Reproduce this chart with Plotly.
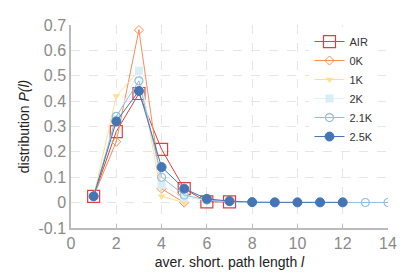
import plotly.graph_objects as go

air_x = [1, 2, 3, 4, 5, 6, 7]
air_y = [0.025, 0.28, 0.43, 0.21, 0.055, 0.003, 0.003]
k0_x = [1, 2, 3, 4, 5]
k0_y = [0.025, 0.24, 0.68, 0.055, 0.0]
k1_x = [1, 2, 3, 4, 5]
k1_y = [0.025, 0.42, 0.52, 0.025, 0.0]
k2_x = [1, 2, 3, 4, 5, 6, 7]
k2_y = [0.025, 0.33, 0.52, 0.07, 0.02, 0.01, 0.004]
k21_x = [1, 2, 3, 4, 5, 6, 7, 8, 9, 10, 11, 12, 13, 14]
k21_y = [0.025, 0.34, 0.48, 0.10, 0.03, 0.01, 0.005, 0.001, 0.001, 0.001, 0.001, 0.001, 0.0005, 0.0005]
k25_x = [1, 2, 3, 4, 5, 6, 7, 8, 9, 10, 11, 12]
k25_y = [0.025, 0.32, 0.44, 0.14, 0.055, 0.015, 0.006, 0.002, 0.001, 0.001, 0.001, 0.001]

fig = go.Figure()
fig.add_trace(go.Scatter(x=air_x, y=air_y, name="AIR", mode="lines+markers",
                         line=dict(color="#e0403a", width=1),
                         marker=dict(symbol="square-open", size=12, color="#e0403a", line=dict(width=1.2))))
fig.add_trace(go.Scatter(x=k0_x, y=k0_y, name="0K", mode="lines+markers",
                         line=dict(color="#fc8d59", width=1),
                         marker=dict(symbol="diamond-open-dot", size=7, color="#fc8d59", line=dict(width=1))))
fig.add_trace(go.Scatter(x=k1_x, y=k1_y, name="1K", mode="lines+markers",
                         line=dict(color="#fee090", width=1),
                         marker=dict(symbol="triangle-down", size=7, color="#fee090")))
fig.add_trace(go.Scatter(x=k2_x, y=k2_y, name="2K", mode="lines+markers",
                         line=dict(color="#e0f3f8", width=1),
                         marker=dict(symbol="square", size=8, color="#d8eef6")))
fig.add_trace(go.Scatter(x=k21_x, y=k21_y, name="2.1K", mode="lines+markers",
                         line=dict(color="#91bfdb", width=1),
                         marker=dict(symbol="circle-open", size=8, color="#91bfdb", line=dict(width=1.2))))
fig.add_trace(go.Scatter(x=k25_x, y=k25_y, name="2.5K", mode="lines+markers",
                         line=dict(color="#4575b4", width=1),
                         marker=dict(symbol="circle-dot", size=9, color="#4575b4", line=dict(color="#4575b4", width=1))))

fig.update_layout(
    width=407, height=269,
    margin=dict(l=63, r=27, t=9, b=48),
    paper_bgcolor="white", plot_bgcolor="white",
    font=dict(family="Liberation Sans, Arial, sans-serif", color="#333"),
    showlegend=True,
    legend=dict(x=0.97, y=0.99, xanchor="right", yanchor="top",
                bgcolor="white", font=dict(size=11, color="#333"),
                tracegroupgap=0, itemwidth=30),
    xaxis=dict(range=[0, 14], tickmode="array", tickvals=[0, 2, 4, 6, 8, 10, 12, 14],
               showgrid=True, gridcolor="#e6e6e6", griddash="dash", gridwidth=1,
               zeroline=False, showline=True, linecolor="#bbbbbb", linewidth=1.5,
               ticks="inside", ticklen=4, tickcolor="#bbbbbb",
               tickfont=dict(size=16, color="#8a8a8a"),
               title=dict(text="aver. short. path length <i>l</i>", font=dict(size=14, color="#222"), standoff=6)),
    yaxis=dict(range=[-0.1, 0.7], tickmode="array",
               tickvals=[-0.1, 0, 0.1, 0.2, 0.3, 0.4, 0.5, 0.6, 0.7],
               ticktext=["-0.1", "0", "0.1", "0.2", "0.3", "0.4", "0.5", "0.6", "0.7"],
               showgrid=True, gridcolor="#e6e6e6", griddash="dash", gridwidth=1,
               zeroline=False, showline=True, linecolor="#bbbbbb", linewidth=1.5,
               ticks="", tickfont=dict(size=16, color="#8a8a8a"),
               title=dict(text="distribution <i>P(l)</i>", font=dict(size=14, color="#222"), standoff=6)),
)

fig.write_html("out.html")
